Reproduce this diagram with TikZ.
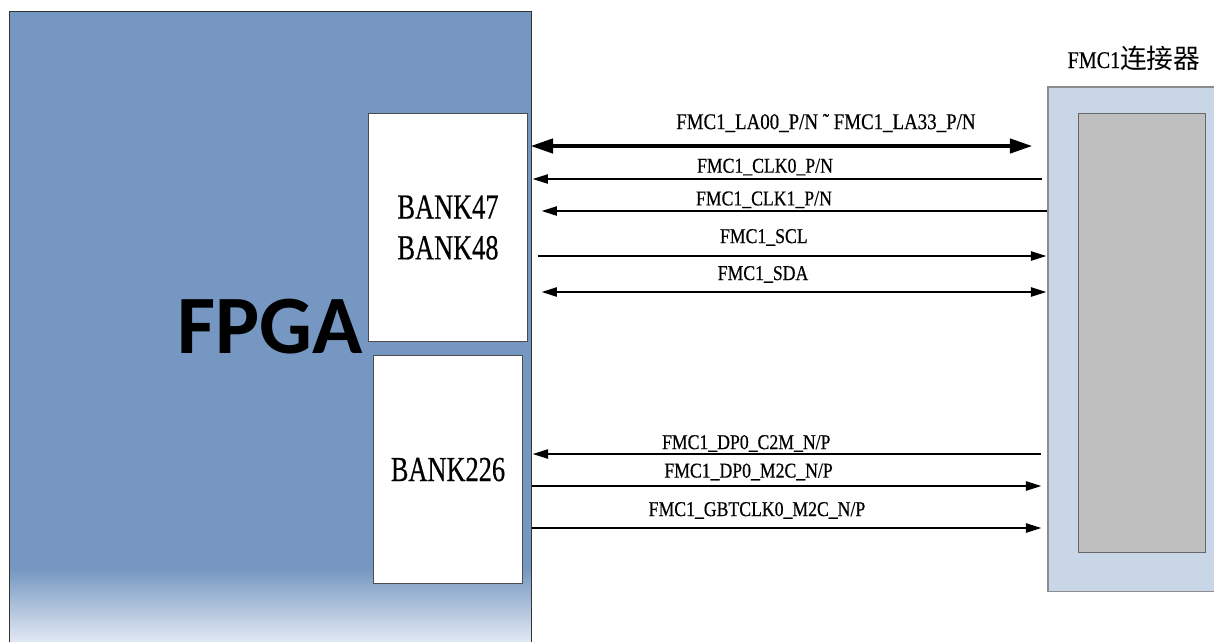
\documentclass[tikz,border=0pt]{standalone}
\usepackage{fontspec}
\newfontfamily\sigfont[FakeStretch=0.84,FakeBold=0.5]{Liberation Serif}
\newfontfamily\bankfont[FakeStretch=0.75,FakeBold=0.4]{Liberation Serif}
\newfontfamily\chipfont{Carlito}
\newfontfamily\cjk{Noto Sans CJK SC}
\usetikzlibrary{
  positioning,
  arrows.meta,
  calc
}
\definecolor{fpgablue}{RGB}{117,151,193}
\definecolor{fpgalight}{RGB}{238,242,249}
\definecolor{connblue}{RGB}{200,214,232}
\definecolor{conngray}{RGB}{191,191,191}
\pgfdeclareverticalshading{fpgafade}{100bp}{color(0bp)=(fpgalight); color(25bp)=(fpgalight); color(31.4bp)=(fpgablue); color(100bp)=(fpgablue)}
\tikzset{
  >={Triangle[length=11pt,width=6.5pt]},
  sig/.style={line width=1.4pt},
  bus/.style={line width=2.9pt,{Triangle[length=16pt,width=10pt]}-{Triangle[length=16pt,width=10pt]}},
  chip/.style={rectangle,draw=black!80,line width=0.8pt,shade,shading=fpgafade,minimum width=13.025cm,minimum height=15.95cm},
  chiplabel/.style={font=\chipfont\fontsize{59}{62}\selectfont\bfseries,anchor=base,inner sep=0pt},
  bank/.style={rectangle,draw=black!70,line width=0.7pt,fill=white,minimum height=5.7cm,align=center,font=\bankfont\fontsize{25}{29}\selectfont},
  connector/.style={rectangle,draw=black!45,line width=0.8pt,fill=connblue,minimum width=4.35cm,minimum height=12.6cm},
  connslot/.style={rectangle,draw=black!60,line width=0.7pt,fill=conngray,minimum width=3.175cm,minimum height=10.95cm},
  siglabel/.style={font=\sigfont\fontsize{15}{18}\selectfont,anchor=base,inner sep=0pt}
}
\begin{document}
\begin{tikzpicture}[x=0.025cm,y=-0.025cm]
    \useasboundingbox (0,0) rectangle (1214,641);
    % FPGA side
    \node[chip] (fpga) at (270.5,331) {};
    \node[chiplabel] (fpgatxt) at (270,353) {FPGA};
    \node[bank,minimum width=3.95cm] (bankA) at (448,227.5) {BANK47\\BANK48};
    \node[bank,minimum width=3.725cm,below=0.325cm of bankA] (bankB) {BANK226};
    % FMC connector
    \node[connector] (conn) at (1135,339) {};
    \node[connslot] (slot) at (1141.5,333) {};
    \node[anchor=base,inner sep=0pt] (conntxt) at (1134,68) {{\sigfont\fontsize{17}{20}\selectfont FMC1}{\cjk\fontsize{19}{20}\selectfont 连接器}};

    % signals
    \draw[bus] ($(bankA.east |- 0,146)+(3,0)$) -- node[siglabel,midway,xshift=31.6pt,yshift=12pt,font=\sigfont\fontsize{16}{18}\selectfont] {FMC1\_LA00\_P/N {\char"02DC} FMC1\_LA33\_P/N} ($(conn.west |- 0,146)+(-15,0)$);
    \draw[sig,<-] ($(bankA.east |- 0,179)+(5,0)$) -- node[siglabel,midway,xshift=-16pt,yshift=4.5pt] {FMC1\_CLK0\_P/N} ($(conn.west |- 0,179)+(-5,0)$);
    \draw[sig,<-] ($(bankA.east |- 0,211)+(14,0)$) -- node[siglabel,midway,xshift=-21.7pt,yshift=4pt] {FMC1\_CLK1\_P/N} (conn.west |- 0,211);
    \draw[sig,->] ($(bankA.east |- 0,256)+(10,0)$) -- node[siglabel,midway,xshift=-20pt,yshift=9.2pt] {FMC1\_SCL} ($(conn.west |- 0,256)+(-1,0)$);
    \draw[sig,<->] ($(bankA.east |- 0,292)+(14,0)$) -- node[siglabel,midway,xshift=-22pt,yshift=8.5pt] {FMC1\_SDA} ($(conn.west |- 0,292)+(-1,0)$);
    \draw[sig,<-] ($(fpga.east |- 0,454)+(1,0)$) -- node[siglabel,midway,xshift=-29pt,yshift=3.5pt] {FMC1\_DP0\_C2M\_N/P} ($(conn.west |- 0,454)+(-6,0)$);
    \draw[sig,->] (fpga.east |- 0,486) -- node[siglabel,midway,xshift=-27pt,yshift=6pt] {FMC1\_DP0\_M2C\_N/P} ($(conn.west |- 0,486)+(-6,0)$);
    \draw[sig,->] (fpga.east |- 0,528) -- node[siglabel,midway,xshift=-21pt,yshift=8.5pt] {FMC1\_GBTCLK0\_M2C\_N/P} ($(conn.west |- 0,528)+(-6,0)$);
\end{tikzpicture}
\end{document}
